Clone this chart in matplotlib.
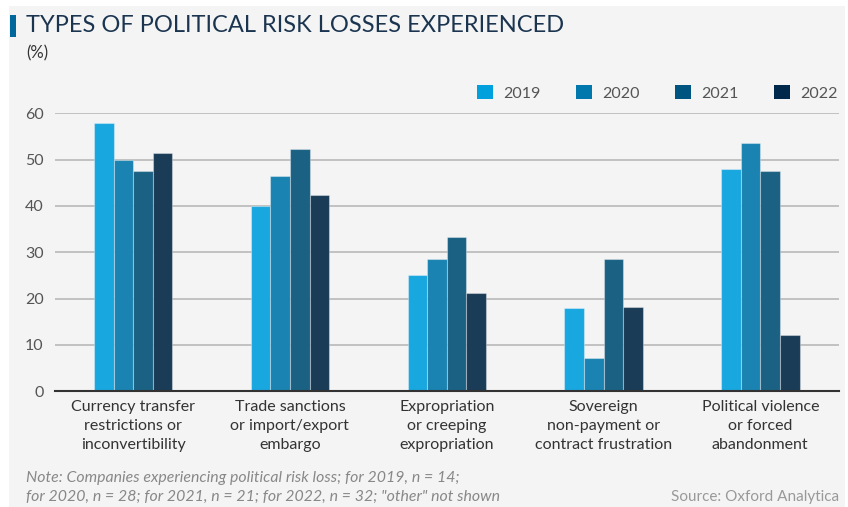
import matplotlib
matplotlib.use("Agg")
import matplotlib.pyplot as plt
from matplotlib.patches import Rectangle, Patch
import numpy as np

plt.rcParams['font.family'] = ['Lato', 'DejaVu Sans']

categories = [
    "Currency transfer\nrestrictions or\ninconvertibility",
    "Trade sanctions\nor import/export\nembargo",
    "Expropriation\nor creeping\nexpropriation",
    "Sovereign\nnon-payment or\ncontract frustration",
    "Political violence\nor forced\nabandonment",
]
years = ["2019", "2020", "2021", "2022"]
values = {
    "2019": [58.0, 40.0, 25.0, 18.0, 48.0],
    "2020": [50.0, 46.4, 28.5, 7.1, 53.6],
    "2021": [47.6, 52.3, 33.3, 28.5, 47.6],
    "2022": [51.4, 42.4, 21.2, 18.1, 12.1],
}
yticks = [0, 10, 20, 30, 40, 50, 60]

bar_colors = ["#19a7df", "#1a83b1", "#1a6184", "#1a3c57"]
key_colors = ["#00a0dc", "#0077ad", "#005580", "#00284a"]
panel = "#f4f4f4"

fig = plt.figure(figsize=(8.48, 5.07), dpi=100)
fig.patch.set_facecolor("white")
W, H = 848, 507
fig.add_artist(Rectangle((9 / W, 0), (845 - 9) / W, (507 - 6) / H,
                         transform=fig.transFigure, facecolor=panel,
                         edgecolor="none", zorder=0))
# title accent bar
fig.add_artist(Rectangle((10 / W, 1 - 37 / H), 6 / W, 22 / H,
                         transform=fig.transFigure, facecolor="#00689c",
                         edgecolor="none", zorder=1))
fig.text(26 / W, 1 - 26 / H, "TYPES OF POLITICAL RISK LOSSES EXPERIENCED",
         fontsize=17, color="#1b3550", va="center", ha="left")
fig.text(26 / W, 1 - 53 / H, "(%)", fontsize=12, color="#333333",
         va="center", ha="left")

ax = fig.add_axes([54.7 / W, 1 - 391.3 / H, (838.7 - 54.7) / W,
                   (391.3 - 113.3) / H])
ax.set_facecolor("none")
x = np.arange(len(categories))
bw = 0.125
for i, y in enumerate(years):
    ax.bar(x + (i - 1.5) * bw, values[y], width=bw, color=bar_colors[i],
           edgecolor=(1, 1, 1, 0.35), linewidth=0.8, zorder=3)

ax.set_xlim(-0.5, len(categories) - 0.5)
ax.set_ylim(0, 60)
ax.set_yticks(yticks)
ax.set_yticklabels([str(t) for t in yticks], fontsize=11.5, color="#555555")
ax.yaxis.grid(True, color="#b4b4b4", linewidth=1.1, zorder=1)
ax.set_axisbelow(True)
ax.tick_params(axis="y", length=0, pad=8)
ax.set_xticks(x)
ax.set_xticklabels(categories, fontsize=11.5, color="#333333",
                   linespacing=1.45)
ax.tick_params(axis="x", length=0, pad=6)
for s in ["top", "right", "left"]:
    ax.spines[s].set_visible(False)
ax.spines["bottom"].set_color("#333333")
ax.spines["bottom"].set_linewidth(1.5)
ax.spines["bottom"].set_zorder(5)

handles = [Patch(facecolor=key_colors[i], edgecolor="none", label=y)
           for i, y in enumerate(years)]
fig.legend(handles=handles, loc="center left", ncol=4, frameon=False,
           bbox_to_anchor=(477 / W, 1 - 93 / H), fontsize=11.5,
           labelcolor="#555555", handlelength=1.0, handleheight=1.0,
           handletextpad=0.65, columnspacing=2.2, borderpad=0,
           borderaxespad=0)

fig.text(26 / W, 1 - 478 / H,
         "Note: Companies experiencing political risk loss; for 2019, n = 14;",
         fontsize=11.4, color="#888888", style="italic", va="center")
fig.text(26 / W, 1 - 497 / H,
         "for 2020, n = 28; for 2021, n = 21; for 2022, n = 32; \"other\" not shown",
         fontsize=11.4, color="#888888", style="italic", va="center")
fig.text(839 / W, 1 - 497 / H, "Source: Oxford Analytica", fontsize=11,
         color="#999999", ha="right", va="center")

fig.savefig("out.png", dpi=100, facecolor="white")
